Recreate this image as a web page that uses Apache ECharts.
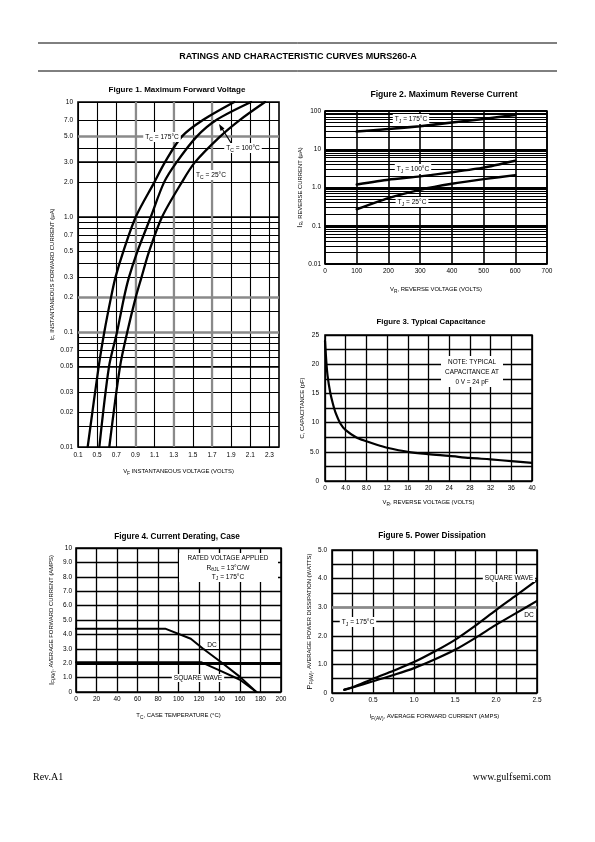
<!DOCTYPE html>
<html><head><meta charset="utf-8">
<script src="https://cdn.jsdelivr.net/npm/echarts@6/dist/echarts.min.js"></script>
<style>html,body{margin:0;padding:0;background:#fff}#c{width:595px;height:842px}</style>
</head><body><div id="c"></div>
<script>
// ---------- Figure 1: Maximum Forward Voltage (log current) ----------
const f1Current = [0.01, 0.05, 0.1, 0.2, 0.3, 0.5, 1, 2, 3, 5, 7, 10];
const f1V175 = [0.401, 0.516, 0.575, 0.645, 0.692, 0.773, 0.903, 1.097, 1.209, 1.384, 1.609, 1.933];
const f1V100 = [0.523, 0.624, 0.708, 0.781, 0.833, 0.920, 1.060, 1.199, 1.331, 1.540, 1.749, 2.108];
const f1V25  = [0.627, 0.739, 0.815, 0.903, 0.964, 1.042, 1.178, 1.384, 1.523, 1.784, 1.993, 2.254];
const f1XTicks = [0.3, 0.5, 0.7, 0.9, 1.1, 1.3, 1.5, 1.7, 1.9, 2.1, 2.3];
const f1XLabels = ['0.1', '0.5', '0.7', '0.9', '1.1', '1.3', '1.5', '1.7', '1.9', '2.1', '2.3'];
const f1YGrid = [0.01, 0.015, 0.02, 0.03, 0.04, 0.05, 0.06, 0.07, 0.08, 0.09, 0.1, 0.15, 0.2, 0.3, 0.4, 0.5, 0.6, 0.7, 0.8, 0.9, 1, 2, 3, 4, 5, 7, 10];
const f1YTicks = [0.01, 0.02, 0.03, 0.05, 0.07, 0.1, 0.2, 0.3, 0.5, 0.7, 1, 2, 3, 5, 7, 10];
const f1YLabels = ['0.01', '0.02', '0.03', '0.05', '0.07', '0.1', '0.2', '0.3', '0.5', '0.7', '1.0', '2.0', '3.0', '5.0', '7.0', '10'];
const f1GrayH = [5, 0.2, 0.1];
const f1BlackH = [3, 1, 0.05];
const f1GrayV = [0.9, 1.3, 1.7];

// ---------- Figure 2: Maximum Reverse Current ----------
const f2Voltage = [100, 200, 300, 400, 500, 600];
const f2I175 = [29, 34, 40, 50, 62, 79];
const f2I100 = [1.2, 1.6, 1.95, 2.5, 3.3, 5.0];
const f2I25  = [0.27, 0.53, 0.87, 1.25, 1.65, 2.1];
const f2YGrid = [0.01,0.02,0.03,0.04,0.05,0.06,0.07,0.08,0.09,0.1,0.2,0.3,0.4,0.5,0.6,0.7,0.8,0.9,1,2,3,4,5,6,7,8,9,10,20,30,40,50,60,70,80,90,100];
const f2YTicks = [0.01, 0.1, 1, 10, 100];
const f2YLabels = ['0.01', '0.1', '1.0', '10', '100'];

// ---------- Figure 3: Typical Capacitance ----------
const f3Voltage = [0, 0.25, 0.5, 1, 1.5, 2, 3, 4, 6, 8, 10, 12, 16, 20, 24, 28, 32, 36, 40];
const f3Cap = [24, 20.5, 18, 15.2, 13.3, 11.8, 9.8, 8.7, 7.5, 6.8, 6.2, 5.7, 5.0, 4.6, 4.3, 3.95, 3.7, 3.4, 3.1];

// ---------- Figure 4: Current Derating, Case ----------
const f4TempDC = [0, 87, 112, 124, 142, 160, 176];
const f4DC = [4.4, 4.4, 3.7, 3.0, 2.05, 1.05, 0];
const f4TempSq = [0, 122, 140, 160, 176];
const f4Sq = [2.07, 2.07, 1.5, 0.85, 0];

// ---------- Figure 5: Power Dissipation ----------
const f5Current = [0.15, 0.25, 0.5, 0.75, 1.0, 1.25, 1.5, 1.75, 2.0, 2.25, 2.5];
const f5Square = [0.12, 0.2, 0.5, 0.78, 1.08, 1.45, 1.86, 2.36, 2.9, 3.42, 3.95];
const f5DC     = [0.11, 0.19, 0.41, 0.63, 0.87, 1.17, 1.51, 1.93, 2.38, 2.8, 3.22];

// ---------- helpers ----------
const F = 'Liberation Sans, Arial, Helvetica, sans-serif';
const L10 = Math.log10;
const zip = (xs, ys) => xs.map((x, i) => [x, ys[i]]);
const zipLogY = (xs, ys) => xs.map((x, i) => [x, L10(ys[i])]);
const lookup = (vals, labels) => (v) => {
  let b = -1, d = 1e9;
  vals.forEach((x, i) => { const dd = Math.abs(x - v); if (dd < d) { d = dd; b = i; } });
  return d < 1e-6 ? labels[b] : '';
};
const RICH = {
  n: {fontSize: 5.9, fontFamily: F, color: '#000', lineHeight: 9},
  b: {fontSize: 7.5, fontFamily: F, color: '#000', lineHeight: 9},
  s: {fontSize: 4.8, fontFamily: F, color: '#000', lineHeight: 9, verticalAlign: 'bottom', padding: [3, 0, 0, 0]}
};
const ARICH = {
  n: {fontSize: 6.6, fontFamily: F, color: '#000', lineHeight: 9},
  s: {fontSize: 5, fontFamily: F, color: '#000', lineHeight: 9, verticalAlign: 'bottom', padding: [3, 0, 0, 0]}
};
const gridStyle = {show: true, borderColor: '#000', borderWidth: 1.6, backgroundColor: 'transparent', containLabel: false, outerBoundsMode: 'none'};
function axis(o) {
  const base = {
    type: 'value',
    axisLine: {show: false},
    axisTick: {show: false},
    splitLine: {show: true, lineStyle: {color: '#000', width: 1.2}},
    nameLocation: 'middle',
    nameTextStyle: {rich: RICH, fontFamily: F, fontSize: 5.9, color: '#000'}
  };
  const r = Object.assign({}, base, o);
  r.axisLabel = Object.assign({color: '#000', fontSize: 6.5, fontFamily: F, margin: 4}, o.axisLabel || {});
  if (o.axisTick) r.axisTick = Object.assign({show: false}, o.axisTick);
  if (o.splitLine) r.splitLine = o.splitLine;
  return r;
}
function curve(data, xi, w, extra) {
  return Object.assign({
    type: 'line', xAxisIndex: xi, yAxisIndex: xi, data: data, showSymbol: false, symbol: 'none',
    smooth: 0.3, lineStyle: {color: '#000', width: w, cap: 'round', join: 'round'}, silent: true, z: 5, animation: false
  }, extra || {});
}
function lines(xi, items) {
  return {
    type: 'line', xAxisIndex: xi, yAxisIndex: xi, data: [], silent: true, z: 3, animation: false,
    markLine: {silent: true, symbol: ['none', 'none'], label: {show: false}, animation: false, data: items}
  };
}
const hl = (v, c, w) => ({yAxis: v, lineStyle: {color: c, width: w, type: 'solid'}});
const vl = (v, c, w) => ({xAxis: v, lineStyle: {color: c, width: w, type: 'solid'}});
function txt(x, y, text, o) {
  return {type: 'text', z: 100, style: Object.assign({
    x: x, y: y, text: text, align: 'center', verticalAlign: 'middle',
    fill: '#000', font: '6.6px ' + F, rich: ARICH
  }, o || {})};
}
const boxed = {backgroundColor: '#fff', padding: [1, 2, 0, 2]};

const option = {
  animation: false,
  backgroundColor: '#fff',
  grid: [
    Object.assign({left: 78, top: 102, width: 201, height: 345}, gridStyle),
    Object.assign({left: 325, top: 111, width: 222, height: 153}, gridStyle),
    Object.assign({left: 325, top: 335, width: 207, height: 146}, gridStyle),
    Object.assign({left: 76, top: 548, width: 205, height: 144}, gridStyle),
    Object.assign({left: 332, top: 550, width: 205, height: 143}, gridStyle)
  ],
  xAxis: [
    axis({gridIndex: 0, min: 0.3, max: 2.4,
      axisTick: {customValues: f1XTicks},
      splitLine: {show: true, lineStyle: {color: '#000', width: 1.1}},
      axisLabel: {customValues: f1XTicks, formatter: lookup(f1XTicks, f1XLabels), margin: 5},
      name: '{n|V}{s|F}{n| INSTANTANEOUS VOLTAGE (VOLTS)}', nameGap: 20}),
    axis({gridIndex: 1, min: 0, max: 700, interval: 100,
      splitLine: {show: true, lineStyle: {color: '#000', width: 1.6}},
      name: '{n|V}{s|R}{n|, REVERSE VOLTAGE (VOLTS)}', nameGap: 21}),
    axis({gridIndex: 2, min: 0, max: 40, interval: 4,
      splitLine: {show: true, lineStyle: {color: '#000', width: 1.3}},
      axisLabel: {formatter: v => (v > 0 && v < 10) ? v.toFixed(1) : String(v), margin: 4},
      name: '{n|V}{s|R}{n|, REVERSE VOLTAGE (VOLTS)}', nameGap: 17}),
    axis({gridIndex: 3, min: 0, max: 200, interval: 20,
      splitLine: {show: true, lineStyle: {color: '#000', width: 1.3}},
      name: '{n|T}{s|C}{n|, CASE TEMPERATURE (°C)}', nameGap: 19}),
    axis({gridIndex: 4, min: 0, max: 2.5, interval: 0.25,
      splitLine: {show: true, lineStyle: {color: '#000', width: 1.3}},
      axisLabel: {formatter: v => Math.abs(v * 2 - Math.round(v * 2)) < 1e-6 ? (v === 0 ? '0' : v.toFixed(1)) : '', margin: 4},
      name: '{n|I}{s|F(AV)}{n|, AVERAGE FORWARD CURRENT (AMPS)}', nameGap: 19})
  ],
  yAxis: [
    axis({gridIndex: 0, min: -2, max: 1,
      axisTick: {customValues: f1YGrid.map(L10)},
      axisLabel: {customValues: f1YTicks.map(L10), formatter: lookup(f1YTicks.map(L10), f1YLabels), margin: 5},
      name: '{n|I}{s|F}{n|, INSTANTANEOUS FORWARD CURRENT (μA)}', nameGap: 19, nameRotate: 90}),
    axis({gridIndex: 1, min: -2, max: 2,
      axisTick: {customValues: f2YGrid.map(L10)},
      splitLine: {show: true, lineStyle: {color: '#000', width: 1.2}},
      axisLabel: {customValues: f2YTicks.map(L10), formatter: lookup(f2YTicks.map(L10), f2YLabels), margin: 4},
      name: '{b|I}{s|R}{n|, REVERSE CURRENT (μA)}', nameGap: 19, nameRotate: 90}),
    axis({gridIndex: 2, min: 0, max: 25, interval: 2.5,
      splitLine: {show: true, lineStyle: {color: '#000', width: 1.3}},
      axisLabel: {formatter: v => v === 0 ? '0' : (v === 5 ? '5.0' : (v % 5 === 0 ? String(v) : '')), margin: 6},
      name: '{n|C, CAPACITANCE (pF)}', nameGap: 18, nameRotate: 90}),
    axis({gridIndex: 3, min: 0, max: 10, interval: 1,
      splitLine: {show: true, lineStyle: {color: '#000', width: 1.3}},
      axisLabel: {formatter: v => v === 0 ? '0' : (v === 10 ? '10' : v.toFixed(1)), margin: 4},
      name: '{b|I}{s|F(AV)}{n|, AVERAGE FORWARD CURRENT (AMPS)}', nameGap: 20, nameRotate: 90}),
    axis({gridIndex: 4, min: 0, max: 5, interval: 0.5,
      splitLine: {show: true, lineStyle: {color: '#000', width: 1.3}},
      axisLabel: {formatter: v => Math.abs(v - Math.round(v)) < 1e-6 ? (v === 0 ? '0' : v.toFixed(1)) : '', margin: 5},
      name: '{b|P}{s|F(AV)}{n|, AVERAGE POWER DISSIPATION (WATTS)}', nameGap: 18, nameRotate: 90})
  ],
  series: [
    lines(0, f1GrayH.map(v => hl(L10(v), '#8a8a8a', 2.6))
      .concat(f1BlackH.map(v => hl(L10(v), '#000', 1.6)))
      .concat(f1GrayV.map(v => vl(v, '#8a8a8a', 2.2)))),
    curve(zipLogY(f1V175, f1Current), 0, 2.3),
    curve(zipLogY(f1V100, f1Current), 0, 2.3),
    curve(zipLogY(f1V25, f1Current), 0, 2.3),

    lines(1, [-2, -1, 0, 1, 2].map(v => hl(v, '#000', 1.8))),
    curve(zipLogY(f2Voltage, f2I175), 1, 2.6, {smooth: 0.2}),
    curve(zipLogY(f2Voltage, f2I100), 1, 2.4, {smooth: 0.2}),
    curve(zipLogY(f2Voltage, f2I25), 1, 2.4, {smooth: 0.2}),

    curve(zip(f3Voltage, f3Cap), 2, 2.2, {smooth: 0.3}),

    lines(3, [hl(2, '#000', 3)]),
    curve(zip(f4TempDC, f4DC), 3, 2, {smooth: false}),
    curve(zip(f4TempSq, f4Sq), 3, 2, {smooth: false}),

    lines(4, [hl(3, '#8a8a8a', 2.6)]),
    curve(zip(f5Current, f5Square), 4, 2.2, {smooth: 0.3}),
    curve(zip(f5Current, f5DC), 4, 2.2, {smooth: 0.3})
  ],
  graphic: [
    // page header
    {type: 'line', z: 100, shape: {x1: 38, y1: 43, x2: 557, y2: 43}, style: {stroke: '#000', lineWidth: 1}},
    {type: 'line', z: 100, shape: {x1: 38, y1: 71, x2: 557, y2: 71}, style: {stroke: '#000', lineWidth: 1}},
    txt(298, 57, 'RATINGS AND CHARACTERISTIC CURVES MURS260-A', {font: 'bold 9px ' + F, rich: null}),
    // titles
    txt(177, 90, 'Figure 1. Maximum Forward Voltage', {font: 'bold 8px ' + F, rich: null}),
    txt(444, 95, 'Figure 2. Maximum Reverse Current', {font: 'bold 8.6px ' + F, rich: null}),
    txt(431, 322, 'Figure 3. Typical Capacitance', {font: 'bold 7.8px ' + F, rich: null}),
    txt(177, 537, 'Figure 4. Current Derating, Case', {font: 'bold 8.2px ' + F, rich: null}),
    txt(432, 536, 'Figure 5. Power Dissipation', {font: 'bold 8.2px ' + F, rich: null}),
    // figure 1 annotations
    {type: 'line', z: 99, shape: {x1: 233, y1: 146, x2: 221, y2: 127}, style: {stroke: '#000', lineWidth: 1.2}},
    {type: 'polygon', z: 99, shape: {points: [[219, 124], [220.5, 131], [224.5, 128.5]]}, style: {fill: '#000'}},
    txt(162, 137, '{n|T}{s|C}{n| = 175°C}', boxed),
    txt(243, 148, '{n|T}{s|C}{n| = 100°C}', boxed),
    txt(211, 175, '{n|T}{s|C}{n| = 25°C}', boxed),
    // figure 2 annotations
    txt(411, 119, '{n|T}{s|J}{n| = 175°C}', boxed),
    txt(413, 169, '{n|T}{s|J}{n| = 100°C}', boxed),
    txt(412, 202, '{n|T}{s|J}{n| = 25°C}', boxed),
    // figure 3 note
    {type: 'rect', z: 99, shape: {x: 441, y: 356, width: 62, height: 31}, style: {fill: '#fff'}},
    txt(472, 362, 'NOTE: TYPICAL', {rich: null, font: '6.4px ' + F}),
    txt(472, 372, 'CAPACITANCE AT', {rich: null, font: '6.4px ' + F}),
    txt(472, 382, '0 V = 24 pF', {rich: null, font: '6.4px ' + F}),
    // figure 4 annotations
    {type: 'rect', z: 99, shape: {x: 179, y: 553, width: 99, height: 29}, style: {fill: '#fff'}},
    txt(228, 558, 'RATED VOLTAGE APPLIED', {rich: null, font: '6.4px ' + F}),
    txt(228, 568, '{n|R}{s|θJL}{n| = 13°C/W}'),
    txt(228, 577, '{n|T}{s|J}{n| = 175°C}'),
    txt(212, 645, 'DC', Object.assign({rich: null, font: '6.6px ' + F}, boxed)),
    txt(198, 678, 'SQUARE WAVE', Object.assign({rich: null, font: '6.6px ' + F}, boxed)),
    // figure 5 annotations
    txt(509, 578, 'SQUARE WAVE', Object.assign({rich: null, font: '6.6px ' + F}, boxed)),
    txt(529, 615, 'DC', Object.assign({rich: null, font: '6.6px ' + F}, boxed)),
    txt(358, 622, '{n|T}{s|J}{n| = 175°C}', boxed),
    // footer
    {type: 'text', z: 100, style: {x: 33, y: 777, text: 'Rev.A1', align: 'left', verticalAlign: 'middle', fill: '#000', font: '10px Liberation Serif, Times New Roman, serif'}},
    {type: 'text', z: 100, style: {x: 551, y: 777, text: 'www.gulfsemi.com', align: 'right', verticalAlign: 'middle', fill: '#000', font: '10px Liberation Serif, Times New Roman, serif'}}
  ]
};
const chart = echarts.init(document.getElementById('c'), null, {renderer: 'canvas', width: 595, height: 842});
chart.setOption(option);
</script>
</body></html>
